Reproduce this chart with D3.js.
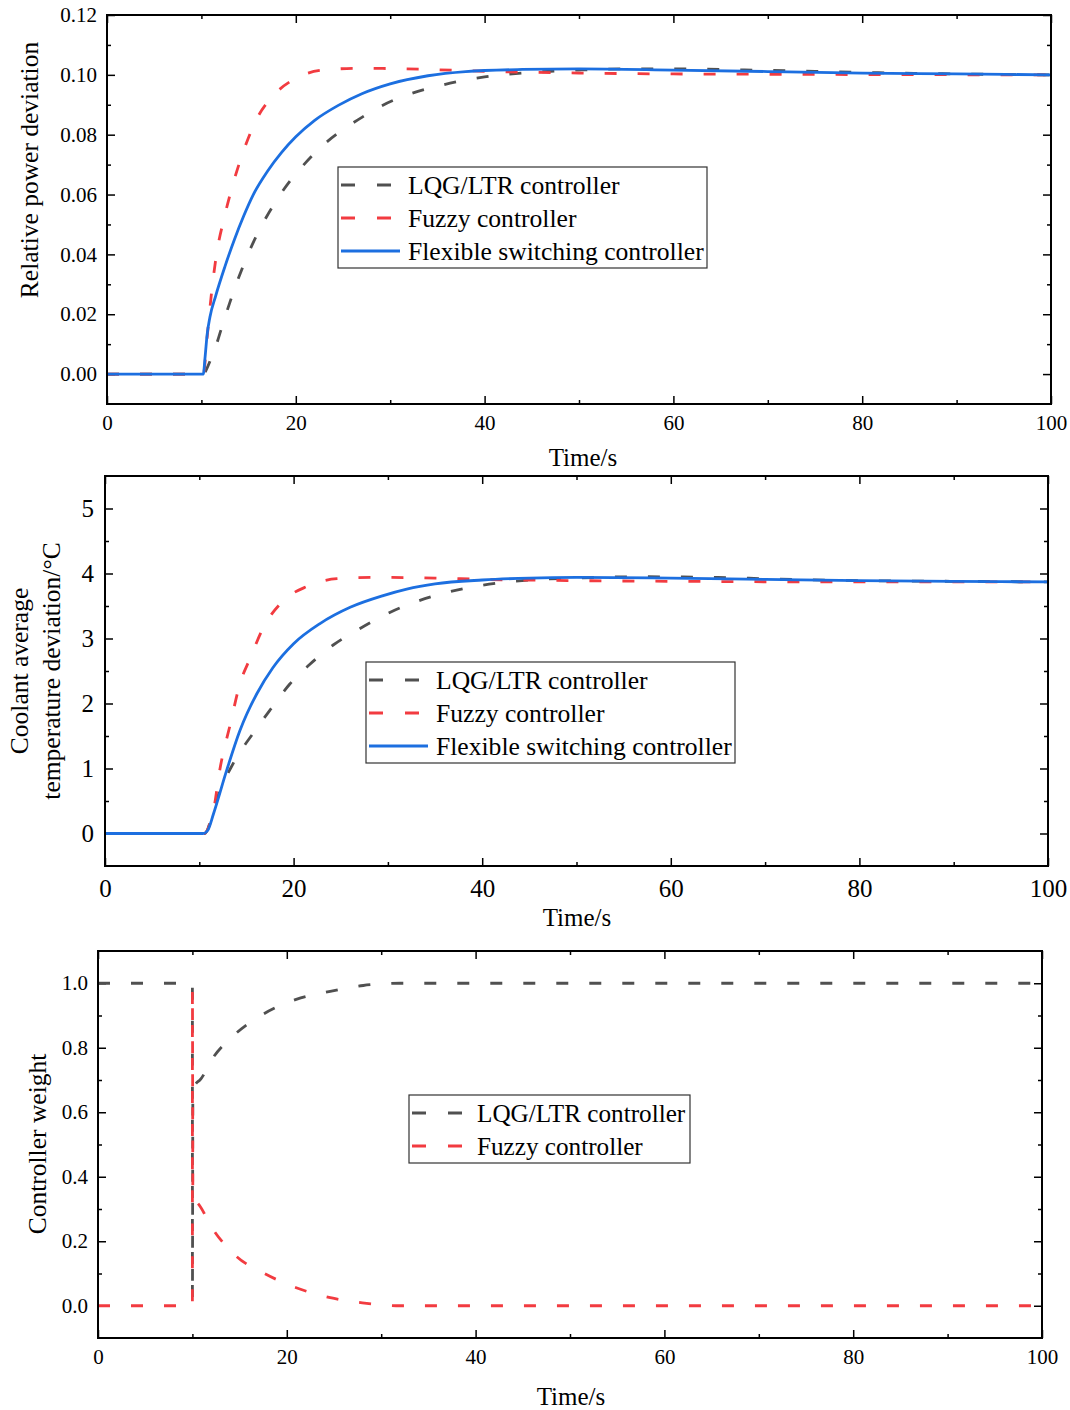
<!DOCTYPE html>
<html>
<head>
<meta charset="utf-8">
<script src="https://cdn.jsdelivr.net/npm/d3@7"></script>
<style>
  body { margin: 0; background: #fff; }
  svg { display: block; }
  svg text { font-family: "Liberation Serif", "Times New Roman", serif; fill: #000; }
</style>
</head>
<body>
<svg id="chart" width="1070" height="1410"></svg>
<script>
'use strict'

// --- data: [time s, value]
const powerLqg = [[0,0],[10.2,0],[10.6,0.002],[11,0.005],[11.5,0.009],[12,0.014],[13,0.0238],[14,0.0327],
  [15,0.0405],[16.5,0.0503],[18,0.0583],[19.5,0.065],[21,0.0705],[23,0.0768],[25,0.0817],[27,0.0858],
  [29,0.0895],[32,0.0935],[35,0.0962],[40,0.0993],[45,0.1008],[50,0.1016],[55,0.102],[60,0.102],
  [70,0.1015],[80,0.1008],[90,0.1003],[100,0.1]]
const powerFuzzy = [[0,0],[10.2,0],[10.6,0.012],[11,0.025],[11.6,0.04],[12.4,0.052],[13.3,0.063],[14.4,0.074],
  [15.9,0.0855],[17.6,0.093],[20.1,0.099],[22.9,0.1016],[26.8,0.1022],[30,0.1021],[35,0.1017],[40,0.1012],
  [50,0.1006],[60,0.1003],[70,0.1002],[80,0.1001],[100,0.1]]
const powerFlex = [[0,0],[10.2,0],[10.4,0.006],[10.6,0.013],[10.9,0.019],[11.5,0.026],[12.5,0.036],[13.5,0.045],
  [14.5,0.053],[15.5,0.06],[17,0.0678],[18.5,0.0741],[20,0.0793],[22,0.0848],[24.5,0.0898],[27,0.0937],
  [30,0.097],[34,0.0997],[38,0.1011],[44,0.1018],[50,0.102],[60,0.1016],[70,0.1011],[80,0.1006],
  [90,0.1003],[100,0.1]]

const tempLqg = [[0,0],[10.6,0],[11.2,0.2],[11.8,0.5],[13.6,1.08],[15.7,1.54],[17.5,1.9],[19.6,2.3],[21.7,2.6],
  [24.2,2.9],[27,3.15],[30.2,3.4],[35,3.66],[40,3.82],[45,3.9],[50,3.93],[57,3.95],[65,3.94],[70,3.92],
  [80,3.89],[90,3.88],[100,3.87]]
const tempFuzzy = [[0,0],[10.5,0],[11,0.1],[11.5,0.35],[12.2,1.0],[13.3,1.69],[14.3,2.3],[15.4,2.7],[16.8,3.17],
  [18.9,3.58],[21.4,3.8],[24.6,3.92],[28.8,3.94],[35,3.93],[40,3.91],[50,3.89],[60,3.88],[80,3.87],[100,3.87]]
const tempFlex = [[0,0],[10.4,0],[10.9,0.05],[11.5,0.3],[12.9,0.97],[14.3,1.58],[16.1,2.15],[17.8,2.55],[20,2.92],
  [22.8,3.23],[26,3.48],[29.5,3.66],[32,3.76],[35,3.84],[40,3.9],[45,3.93],[50,3.94],[60,3.93],[70,3.91],
  [80,3.89],[90,3.88],[100,3.87]]

const weightLqg = [[0,1],[10,1],[10.001,0.02],[10.05,0.67],[10.4,0.69],[10.8,0.7],[12.2,0.77],[14.3,0.836],
  [17.5,0.904],[21,0.95],[24.6,0.975],[28.1,0.993],[32,1],[100,1]]
const weightFuzzy = [[0,0],[10,0],[10.001,0.98],[10.05,0.33],[10.5,0.32],[12.2,0.236],[14.7,0.152],[17.5,0.102],
  [21,0.056],[24.6,0.025],[28,0.009],[32,0],[100,0]]

const legendNames = ['LQG/LTR controller', 'Fuzzy controller', 'Flexible switching controller']
const colors = { lqg: '#505050', fuzzy: '#f23b40', flex: '#1c6fe0' }

const svg = d3.select('#chart')

function drawPanel(cfg) {
	let x = d3.scaleLinear().domain([0, 100]).range([cfg.left, cfg.right])
	let y = d3.scaleLinear().domain(cfg.yDomain).range([cfg.bottom, cfg.top])
	let g = svg.append('g')

	// major and minor ticks, all pointing inward
	let mk = function(axis, scale, ticks, size, pos, pad, fmt) {
		let a = axis(scale).tickValues(ticks).tickSize(size).tickSizeOuter(0)
			.tickPadding(pad || 0)
			.tickFormat(fmt || '')
		let sel = g.append('g').attr('transform', pos).call(a)
		sel.attr('font-family', null)
		sel.select('.domain').remove()
		sel.selectAll('line').attr('stroke', '#000').attr('stroke-width', 1.5)
		sel.selectAll('text').style('font-size', cfg.tickFont + 'px')
		return sel
	}
	let xMajor = d3.range(0, 101, 20)
	let xMinor = d3.range(10, 100, 20)
	let bt = 'translate(0,' + cfg.bottom + ')'
	mk(d3.axisBottom, x, xMajor, -8, bt)
	mk(d3.axisBottom, x, xMajor, 0, bt, cfg.xPad, d3.format('d'))
	mk(d3.axisBottom, x, xMinor, -4, bt)
	mk(d3.axisTop, x, xMajor, -8, 'translate(0,' + cfg.top + ')')
	mk(d3.axisTop, x, xMinor, -4, 'translate(0,' + cfg.top + ')')
	let lt = 'translate(' + cfg.left + ',0)'
	mk(d3.axisLeft, y, cfg.yMajor, -8, lt)
	mk(d3.axisLeft, y, cfg.yMajor, 0, lt, cfg.yPad, d3.format(cfg.yFmt))
	mk(d3.axisLeft, y, cfg.yMinor, -4, lt)
	mk(d3.axisRight, y, cfg.yMajor, -8, 'translate(' + cfg.right + ',0)')
	mk(d3.axisRight, y, cfg.yMinor, -4, 'translate(' + cfg.right + ',0)')

	let line = d3.line().x(d => x(d[0])).y(d => y(d[1])).curve(d3.curveMonotoneX)
	cfg.series.forEach(function(s) {
		g.append('path')
			.attr('d', line(s.data))
			.attr('fill', 'none')
			.attr('stroke', colors[s.key])
			.attr('stroke-width', 2.8)
			.attr('stroke-dasharray', s.key === 'flex' ? null : '12 21')
	})

	g.append('rect')
		.attr('x', cfg.left).attr('y', cfg.top)
		.attr('width', cfg.right - cfg.left).attr('height', cfg.bottom - cfg.top)
		.attr('fill', 'none').attr('stroke', '#000').attr('stroke-width', 2)

	// axis titles
	g.append('text')
		.attr('x', cfg.xTitleX).attr('y', cfg.xTitleY)
		.attr('text-anchor', 'middle').style('font-size', '25px')
		.text('Time/s')
	cfg.yTitle.forEach(function(t, i) {
		g.append('text')
			.attr('transform', 'translate(' + cfg.yTitleX[i] + ',' + cfg.yTitleCy + ') rotate(-90)')
			.attr('text-anchor', 'middle').attr('dy', '0.35em').style('font-size', '25.5px')
			.text(t)
	})

	// legend
	let lg = g.append('g').attr('transform', 'translate(' + cfg.legend[0] + ',' + cfg.legend[1] + ')')
	let n = cfg.series.length
	lg.append('rect')
		.attr('width', cfg.legendW).attr('height', n * 33 + 2)
		.attr('fill', '#fff').attr('stroke', '#333').attr('stroke-width', 1.2)
	cfg.series.forEach(function(s, i) {
		let cy = 18 + i * 33
		lg.append('line')
			.attr('x1', 3).attr('x2', 62).attr('y1', cy).attr('y2', cy)
			.attr('stroke', colors[s.key]).attr('stroke-width', 2.8)
			.attr('stroke-dasharray', s.key === 'flex' ? null : '14 22')
		lg.append('text')
			.attr('x', cfg.legendTextX).attr('y', cy).attr('dy', '0.35em')
			.style('font-size', cfg.legendFont + 'px')
			.text(legendNames[i])
	})
}

drawPanel({
	left: 107, right: 1051, top: 15, bottom: 404,
	yDomain: [-0.01, 0.12], yMajor: d3.range(0, 0.121, 0.02), yMinor: d3.range(0.01, 0.12, 0.02),
	yFmt: '.2f', tickFont: 21, yPad: 10, xPad: 11,
	xTitleX: 583, xTitleY: 466, yTitle: ['Relative power deviation'], yTitleX: [29], yTitleCy: 170,
	legend: [338, 167], legendW: 369, legendFont: 25.6, legendTextX: 70,
	series: [{ key: 'lqg', data: powerLqg }, { key: 'fuzzy', data: powerFuzzy }, { key: 'flex', data: powerFlex }]
})

drawPanel({
	left: 105, right: 1048, top: 476, bottom: 866,
	yDomain: [-0.5, 5.5], yMajor: d3.range(0, 5.1, 1), yMinor: d3.range(0.5, 5.5, 1),
	yFmt: 'd', tickFont: 25, yPad: 11, xPad: 13,
	xTitleX: 577, xTitleY: 926, yTitle: ['Coolant average', 'temperature deviation/°C'], yTitleX: [19, 51], yTitleCy: 671,
	legend: [366, 662], legendW: 369, legendFont: 25.6, legendTextX: 70,
	series: [{ key: 'lqg', data: tempLqg }, { key: 'fuzzy', data: tempFuzzy }, { key: 'flex', data: tempFlex }]
})

drawPanel({
	left: 98, right: 1042, top: 951, bottom: 1338,
	yDomain: [-0.1, 1.1], yMajor: d3.range(0, 1.01, 0.2), yMinor: d3.range(0.1, 1.0, 0.2),
	yFmt: '.1f', tickFont: 21, yPad: 10, xPad: 11,
	xTitleX: 571, xTitleY: 1405, yTitle: ['Controller weight'], yTitleX: [37], yTitleCy: 1144,
	legend: [409, 1095], legendW: 281, legendFont: 25.2, legendTextX: 68,
	series: [{ key: 'lqg', data: weightLqg }, { key: 'fuzzy', data: weightFuzzy }]
})
</script>
</body>
</html>
